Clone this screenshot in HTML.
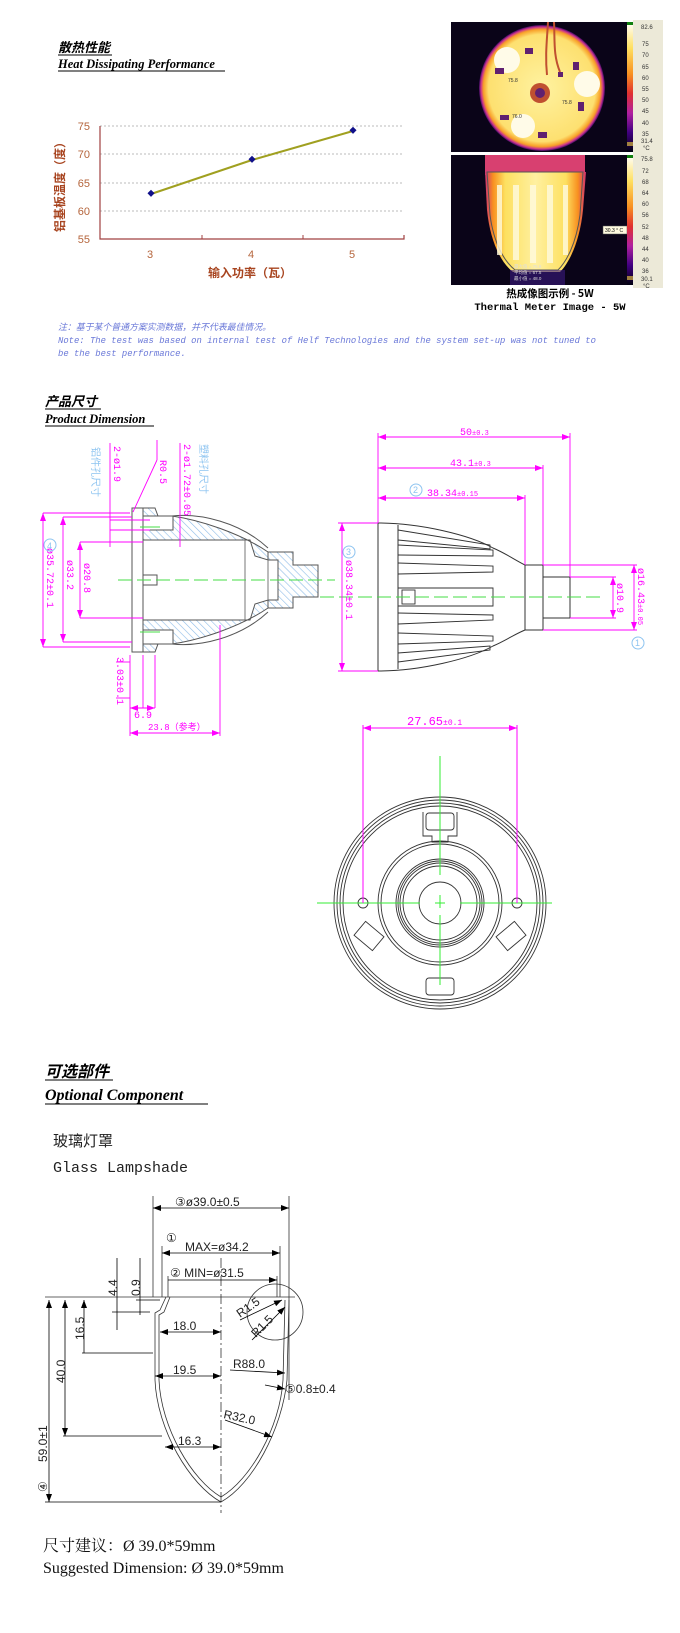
<!DOCTYPE html>
<html><head><meta charset="utf-8">
<style>
html,body{margin:0;padding:0;background:#fff;}
svg{display:block;}
</style></head>
<body>
<svg width="680" height="1633" viewBox="0 0 680 1633" xmlns="http://www.w3.org/2000/svg">
<defs>
<pattern id="hatch" width="5" height="5" patternUnits="userSpaceOnUse" patternTransform="rotate(-45)">
<rect width="5" height="5" fill="#fff"/><line x1="0" y1="0" x2="0" y2="5" stroke="#8fbde8" stroke-width="1.2"/></pattern>
<radialGradient id="disk" cx="0.5" cy="0.5" r="0.5">
<stop offset="0" stop-color="#fff2a0"/><stop offset="0.85" stop-color="#fde070"/><stop offset="0.93" stop-color="#f8a028"/><stop offset="0.97" stop-color="#c83090"/><stop offset="1" stop-color="#3a0a60"/></radialGradient>
<linearGradient id="bulb" x1="0" y1="0" x2="1" y2="0">
<stop offset="0" stop-color="#d03070"/><stop offset="0.08" stop-color="#f89020"/><stop offset="0.2" stop-color="#fde060"/><stop offset="0.5" stop-color="#fff0a0"/><stop offset="0.8" stop-color="#fde060"/><stop offset="0.92" stop-color="#f89020"/><stop offset="1" stop-color="#d03070"/></linearGradient>
<linearGradient id="cbar" x1="0" y1="0" x2="0" y2="1">
<stop offset="0" stop-color="#ffffff"/><stop offset="0.2" stop-color="#ffe060"/><stop offset="0.4" stop-color="#f89020"/><stop offset="0.55" stop-color="#e03030"/><stop offset="0.7" stop-color="#b020a0"/><stop offset="0.85" stop-color="#400080"/><stop offset="1" stop-color="#000010"/></linearGradient>
<marker id="ar" markerWidth="8" markerHeight="6" refX="8" refY="3" orient="auto-start-reverse" markerUnits="userSpaceOnUse"><path d="M0,0 L8,3 L0,6 z" fill="#f0f"/></marker>
<marker id="ak" markerWidth="8" markerHeight="6" refX="8" refY="3" orient="auto-start-reverse" markerUnits="userSpaceOnUse"><path d="M0,0 L8,3 L0,6 z" fill="#000"/></marker>
</defs>

<g font-family="'Liberation Serif','Noto Serif CJK SC',serif" font-weight="bold" font-style="italic" fill="#000">
<text x="58" y="52" font-size="13" font-family="'Noto Sans CJK SC',sans-serif">散热性能</text>
<text x="58" y="68" font-size="12.5">Heat Dissipating Performance</text>
<line x1="58" y1="71" x2="225" y2="71" stroke="#000" stroke-width="1"/>
<line x1="58" y1="55" x2="112" y2="55" stroke="#000" stroke-width="1"/>
</g>

<g font-family="'Liberation Sans',sans-serif" font-size="11" fill="#b5653c">
<g stroke="#bbb" stroke-dasharray="2,2"><line x1="100" y1="126" x2="404" y2="126"/><line x1="100" y1="154" x2="404" y2="154"/><line x1="100" y1="183" x2="404" y2="183"/><line x1="100" y1="211" x2="404" y2="211"/></g>
<polyline points="100,126 100,239 404,239 404,235" fill="none" stroke="#a04040" stroke-width="1.2"/>
<line x1="202" y1="239" x2="202" y2="235" stroke="#a04040"/><line x1="303" y1="239" x2="303" y2="235" stroke="#a04040"/>
<text x="90" y="130" text-anchor="end">75</text><text x="90" y="158" text-anchor="end">70</text><text x="90" y="187" text-anchor="end">65</text><text x="90" y="215" text-anchor="end">60</text><text x="90" y="243" text-anchor="end">55</text>
<text x="150" y="258" text-anchor="middle">3</text><text x="251" y="258" text-anchor="middle">4</text><text x="352" y="258" text-anchor="middle">5</text>
<text x="250" y="277" text-anchor="middle" font-weight="bold" font-size="12" fill="#a84520" font-family="'Noto Sans CJK SC',sans-serif">输入功率（瓦）</text>
<text transform="translate(64,184) rotate(-90)" text-anchor="middle" font-weight="bold" font-size="12" fill="#a84520" font-family="'Noto Sans CJK SC',sans-serif">铝基板温度（度）</text>
<polyline points="151,194 252,160 353,131" fill="none" stroke="#a0a020" stroke-width="2"/>
<g fill="#10108a"><rect x="148" y="191" width="5" height="5" transform="rotate(45 151 194)"/><rect x="249" y="157" width="5" height="5" transform="rotate(45 252 160)"/><rect x="350" y="128" width="5" height="5" transform="rotate(45 353 131)"/></g>
</g>

<g font-family="'Liberation Mono','Noto Sans CJK SC',monospace" font-style="italic" font-size="8.9" fill="#6a78d8">
<text x="58" y="330">注：基于某个普通方案实测数据，并不代表最佳情况。</text>
<text x="58" y="343">Note: The test was based on internal test of Helf Technologies and the system set-up was not tuned to</text>
<text x="58" y="356">be the best performance.</text>
</g>

<rect x="451" y="22" width="176" height="130" fill="#0a0418"/>
<circle cx="542" cy="88" r="63" fill="url(#disk)"/>
<circle cx="507" cy="60" r="13" fill="#fffbe8"/><circle cx="587" cy="84" r="13" fill="#fffbe8"/><circle cx="523" cy="126" r="12" fill="#fffbe8"/>
<circle cx="540" cy="93" r="10" fill="#c05030"/><circle cx="540" cy="93" r="5" fill="#602070"/>
<g fill="#602070"><rect x="495" y="68" width="9" height="6"/><rect x="525" y="48" width="8" height="6"/><rect x="573" y="62" width="6" height="8"/><rect x="578" y="102" width="6" height="9"/><rect x="500" y="115" width="9" height="5"/><rect x="538" y="132" width="9" height="6"/><rect x="558" y="72" width="5" height="5"/></g>
<path d="M548,22 C547,40 545,55 547,75 M554,22 C555,40 553,55 560,72" stroke="#c05030" stroke-width="2" fill="none"/>
<g font-size="5" fill="#333" font-family="'Liberation Sans',sans-serif"><text x="508" y="82">75.8</text><text x="562" y="104">75.8</text><text x="512" y="118">76.0</text></g>
<rect x="451" y="155" width="176" height="130" fill="#0a0418"/>
<rect x="485" y="155" width="100" height="20" fill="#d84070"/>
<path d="M485,172 L586,172 L583,210 C580,240 570,262 560,272 L513,272 C500,262 490,240 487,210 Z" fill="url(#bulb)"/>
<path d="M487,172 L583,172 L580,215 C576,245 566,262 558,270 L515,270 C505,262 494,245 490,215 Z" fill="none" stroke="#555" stroke-width="1"/>
<g fill="#fffbe0" opacity="0.8"><rect x="497" y="185" width="5" height="70"/><rect x="513" y="185" width="6" height="75"/><rect x="530" y="185" width="6" height="78"/><rect x="547" y="185" width="6" height="78"/><rect x="563" y="185" width="5" height="70"/></g>
<rect x="510" y="270" width="55" height="15" fill="#3a1a80" opacity="0.6"/>
<g font-size="4.5" fill="#ddd" font-family="'Liberation Sans',sans-serif"><text x="514" y="268">最大值 = 75.8</text><text x="514" y="274">平均值 = 67.5</text><text x="514" y="280">最小值 = 48.0</text></g>
<rect x="603" y="226" width="24" height="8" fill="#fffbe0" stroke="#555" stroke-width="0.5"/><text x="605" y="232" font-size="5" font-family="'Liberation Sans',sans-serif">30.3 ° C</text>
<rect x="627" y="22" width="6" height="130" fill="url(#cbar)"/><rect x="627" y="22" width="6" height="3" fill="#108010"/><rect x="627" y="142" width="6" height="4" fill="#a08040"/>
<rect x="627" y="155" width="6" height="130" fill="url(#cbar)"/><rect x="627" y="155" width="6" height="3" fill="#108010"/><rect x="627" y="276" width="6" height="4" fill="#a08040"/>
<rect x="633" y="20" width="30" height="134" fill="#ece9d8"/><rect x="633" y="154" width="30" height="134" fill="#ece9d8"/>
<g font-size="6" fill="#333" font-family="'Liberation Sans',sans-serif">
<text x="641" y="29">82.6</text><text x="642" y="46">75</text><text x="642" y="57">70</text><text x="642" y="69">65</text><text x="642" y="80">60</text><text x="642" y="91">55</text><text x="642" y="102">50</text><text x="642" y="113">45</text><text x="642" y="125">40</text><text x="642" y="136">35</text><text x="641" y="143">31.4</text><text x="643" y="150">°C</text>
<text x="641" y="161">75.8</text><text x="642" y="173">72</text><text x="642" y="184">68</text><text x="642" y="195">64</text><text x="642" y="206">60</text><text x="642" y="217">56</text><text x="642" y="229">52</text><text x="642" y="240">48</text><text x="642" y="251">44</text><text x="642" y="262">40</text><text x="642" y="273">36</text><text x="641" y="281">30.1</text><text x="643" y="288">°C</text></g>
<g font-weight="bold" font-size="10.5" text-anchor="middle" fill="#000">
<text x="550" y="297" font-family="'Noto Sans CJK SC',sans-serif">热成像图示例 - 5W</text>
<text x="550" y="310" font-family="'Liberation Mono',monospace">Thermal Meter Image - 5W</text></g>

<g font-family="'Liberation Serif',serif" font-weight="bold" font-style="italic" fill="#000">
<text x="45" y="406" font-size="13" font-family="'Noto Sans CJK SC',sans-serif">产品尺寸</text>
<line x1="45" y1="409" x2="101" y2="409" stroke="#000"/>
<text x="45" y="423" font-size="12.5">Product Dimension</text>
<line x1="45" y1="426" x2="154" y2="426" stroke="#000"/>
</g>

<g stroke-width="1">
<path d="M143,508 L155,508 L158,516 L172,516 C200,520 240,533 268,552 L268,560 L255,556 L250,540 L143,540 Z" fill="url(#hatch)" stroke="#555"/>
<path d="M143,652 L155,652 L158,644 L172,644 C200,640 240,627 268,608 L268,600 L255,604 L250,620 L143,620 Z" fill="url(#hatch)" stroke="#555"/>
<path d="M268,552 L293,552 L293,565 L318,565 L318,597 L293,597 L293,608 L268,608 L268,600 L278,600 L278,560 L268,560 Z" fill="url(#hatch)" stroke="#555"/>
<path d="M172,516 C200,513 240,522 268,548" fill="none" stroke="#555"/>
<path d="M172,644 C200,647 240,638 268,612" fill="none" stroke="#555"/>
<rect x="132" y="508" width="11" height="144" fill="#fff" stroke="#555"/>
<rect x="143" y="516" width="30" height="14" fill="#fff" stroke="#555"/>
<rect x="143" y="630" width="30" height="14" fill="#fff" stroke="#555"/>
<line x1="245" y1="540" x2="245" y2="620" stroke="#777"/><line x1="268" y1="560" x2="268" y2="600" stroke="#777"/>
<rect x="143" y="575" width="14" height="10" fill="#fff" stroke="#555"/>
<line x1="118" y1="580" x2="335" y2="580" stroke="#4d4" stroke-dasharray="14,5"/>
<line x1="140" y1="527" x2="160" y2="527" stroke="#4d4"/><line x1="140" y1="632" x2="160" y2="632" stroke="#4d4"/>
</g>
<g stroke="#f0f" fill="none" stroke-width="0.9">
<line x1="43" y1="513" x2="130" y2="513"/><line x1="43" y1="647" x2="130" y2="647"/>
<line x1="43" y1="513" x2="43" y2="647" marker-start="url(#ar)" marker-end="url(#ar)"/>
<line x1="63" y1="517" x2="132" y2="517"/><line x1="63" y1="642" x2="132" y2="642"/>
<line x1="63" y1="517" x2="63" y2="642" marker-start="url(#ar)" marker-end="url(#ar)"/>
<line x1="80" y1="542" x2="143" y2="542"/><line x1="80" y1="618" x2="143" y2="618"/>
<line x1="80" y1="542" x2="80" y2="618" marker-start="url(#ar)" marker-end="url(#ar)"/>
<line x1="110" y1="443" x2="110" y2="547"/><line x1="180" y1="443" x2="180" y2="547"/>
<line x1="110" y1="520" x2="150" y2="520"/><line x1="110" y1="530" x2="150" y2="530"/>
<line x1="157" y1="460" x2="133" y2="512"/><line x1="157" y1="460" x2="157" y2="440"/>
<line x1="130" y1="655" x2="130" y2="736"/><line x1="143" y1="655" x2="143" y2="708"/><line x1="155" y1="655" x2="155" y2="708"/><line x1="220" y1="625" x2="220" y2="736"/>
<line x1="116" y1="662" x2="130" y2="662"/><line x1="116" y1="698" x2="130" y2="698"/>
<line x1="130" y1="708" x2="155" y2="708" marker-start="url(#ar)" marker-end="url(#ar)"/>
<line x1="130" y1="733" x2="220" y2="733" marker-start="url(#ar)" marker-end="url(#ar)"/>
</g>
<g font-family="'Liberation Mono','Noto Sans CJK SC',monospace" font-size="10" fill="#f0f">
<text transform="translate(47,548) rotate(90)">ø35.72±0.1</text>
<text transform="translate(67,560) rotate(90)">ø33.2</text>
<text transform="translate(84,563) rotate(90)">ø20.8</text>
<text transform="translate(114,446) rotate(90)">2-ø1.9</text>
<text transform="translate(160,460) rotate(90)">R0.5</text>
<text transform="translate(184,444) rotate(90)">2-ø1.72±0.05</text>
<text transform="translate(117,657) rotate(90)">3.03±0.1</text>
<text x="134" y="718">6.9</text>
<text x="148" y="730" font-size="9">23.8（参考）</text>
</g>
<g font-family="'Noto Sans CJK SC',sans-serif" font-size="10" fill="#8ec4f0">
<text transform="translate(92,447) rotate(90)">铝件孔尺寸</text>
<text transform="translate(200,444) rotate(90)">塑料孔尺寸</text>
</g>
<circle cx="50" cy="545" r="6" fill="none" stroke="#8ec4f0"/><text x="47" y="549" font-size="9" fill="#8ec4f0" font-family="'Liberation Sans',sans-serif">4</text>

<g stroke="#333" fill="none" stroke-width="1">
<path d="M378,523 L378,671"/>
<path d="M378,523 C420,523 470,535 493,548 C505,553 515,560 525,565"/>
<path d="M378,671 C420,671 470,659 493,646 C505,641 515,634 525,630"/>
<rect x="525" y="565" width="18" height="65"/><rect x="543" y="577" width="27" height="41"/>
<line x1="398" y1="525" x2="398" y2="669"/>
<g stroke-width="0.9">
<path d="M398,530 L490,545 L490,549 L398,540"/><path d="M398,545 L493,550 L493,556 L398,555"/><path d="M398,563 L493,566 L493,572 L398,574"/><path d="M398,588 L493,588 L493,606 L398,606"/><path d="M398,613 L493,615 L493,620 L398,624"/><path d="M398,633 L493,636 L493,641 L398,644"/><path d="M398,653 L490,646 L490,650 L398,662"/>
<rect x="402" y="590" width="13" height="14"/></g>
</g>
<line x1="320" y1="597" x2="605" y2="597" stroke="#4d4" stroke-dasharray="14,5"/>
<g stroke="#f0f" fill="none" stroke-width="0.9">
<line x1="378" y1="433" x2="378" y2="523"/><line x1="570" y1="433" x2="570" y2="577"/><line x1="543" y1="465" x2="543" y2="565"/><line x1="525" y1="495" x2="525" y2="565"/>
<line x1="378" y1="437" x2="570" y2="437" marker-start="url(#ar)" marker-end="url(#ar)"/>
<line x1="378" y1="468" x2="543" y2="468" marker-start="url(#ar)" marker-end="url(#ar)"/>
<line x1="378" y1="498" x2="525" y2="498" marker-start="url(#ar)" marker-end="url(#ar)"/>
<line x1="338" y1="523" x2="378" y2="523"/><line x1="338" y1="671" x2="378" y2="671"/>
<line x1="342" y1="523" x2="342" y2="671" marker-start="url(#ar)" marker-end="url(#ar)"/>
<line x1="543" y1="565" x2="637" y2="565"/><line x1="543" y1="630" x2="637" y2="630"/>
<line x1="634" y1="565" x2="634" y2="630" marker-start="url(#ar)" marker-end="url(#ar)"/>
<line x1="570" y1="577" x2="616" y2="577"/><line x1="570" y1="618" x2="616" y2="618"/>
<line x1="613" y1="577" x2="613" y2="618" marker-start="url(#ar)" marker-end="url(#ar)"/>
</g>
<g font-family="'Liberation Mono',monospace" font-size="10" fill="#f0f">
<text x="460" y="435">50<tspan font-size="7">±0.3</tspan></text>
<text x="450" y="466">43.1<tspan font-size="7">±0.3</tspan></text>
<text x="427" y="496">38.34<tspan font-size="7">±0.15</tspan></text>
<text transform="translate(346,560) rotate(90)">ø38.34±0.1</text>
<text transform="translate(638,568) rotate(90)">ø16.43<tspan font-size="7">±0.05</tspan></text>
<text transform="translate(617,583) rotate(90)">ø10.9</text>
</g>
<g fill="none" stroke="#8ec4f0"><circle cx="416" cy="490" r="6"/><circle cx="349" cy="552" r="6"/><circle cx="638" cy="643" r="6"/></g>
<g font-size="9" fill="#8ec4f0" font-family="'Liberation Sans',sans-serif"><text x="413" y="493">2</text><text x="346" y="555">3</text><text x="635" y="646">1</text></g>

<g stroke="#333" fill="none" stroke-width="0.9">
<circle cx="440" cy="903" r="106"/><circle cx="440" cy="903" r="103"/><circle cx="440" cy="903" r="100"/><circle cx="440" cy="903" r="97"/>
<circle cx="440" cy="903" r="62"/><circle cx="440" cy="903" r="59"/>
<circle cx="440" cy="903" r="44"/><circle cx="440" cy="903" r="42"/><circle cx="440" cy="903" r="40"/><circle cx="440" cy="903" r="37"/>
<circle cx="440" cy="903" r="21"/>
<circle cx="363" cy="903" r="5"/><circle cx="517" cy="903" r="5"/>
<rect x="426" y="813" width="28" height="17" rx="3"/>
<path d="M423,812 L423,836 L432,836 L432,842 L448,842 L448,836 L457,836 L457,812"/>
<rect x="426" y="978" width="28" height="17" rx="3"/>
<rect x="357" y="927" width="24" height="18" transform="rotate(40 369 936)"/>
<rect x="499" y="927" width="24" height="18" transform="rotate(-40 511 936)"/>
</g>
<g stroke="#3e3" stroke-width="1">
<line x1="317" y1="903" x2="420" y2="903"/><line x1="460" y1="903" x2="552" y2="903"/><line x1="435" y1="903" x2="445" y2="903"/>
<line x1="440" y1="756" x2="440" y2="875"/><line x1="440" y1="915" x2="440" y2="985"/><line x1="440" y1="895" x2="440" y2="908"/>
</g>
<g stroke="#f0f" stroke-width="1" fill="none">
<line x1="363" y1="725" x2="363" y2="903"/><line x1="517" y1="725" x2="517" y2="903"/>
<line x1="363" y1="728" x2="517" y2="728" marker-start="url(#ar)" marker-end="url(#ar)"/>
</g>
<text x="407" y="725" font-family="'Liberation Mono',monospace" font-size="12" fill="#f0f">27.65<tspan font-size="8">±0.1</tspan></text>

<g font-family="'Liberation Serif',serif" font-weight="bold" font-style="italic" fill="#000">
<text x="45" y="1077" font-size="16" font-family="'Noto Sans CJK SC',sans-serif">可选部件</text>
<line x1="45" y1="1080" x2="113" y2="1080" stroke="#000"/>
<text x="45" y="1100" font-size="16">Optional Component</text>
<line x1="45" y1="1104" x2="208" y2="1104" stroke="#000"/>
</g>
<text x="53" y="1146" font-family="'Noto Sans CJK SC',sans-serif" font-size="15" fill="#222">玻璃灯罩</text>
<text x="53" y="1172" font-family="'Liberation Mono',monospace" font-size="15" fill="#222">Glass Lampshade</text>

<g stroke="#333" fill="none" stroke-width="0.8">
<line x1="45" y1="1297" x2="295" y2="1297"/>
<line x1="153" y1="1196" x2="153" y2="1297"/><line x1="289" y1="1196" x2="289" y2="1400"/>
<line x1="162" y1="1246" x2="162" y2="1297"/><line x1="280" y1="1246" x2="280" y2="1297"/>
<line x1="168" y1="1276" x2="168" y2="1297"/><line x1="277" y1="1276" x2="277" y2="1297"/>
<path d="M166,1297 L160,1310 L155,1313 L155,1380 C157,1430 190,1485 221,1502 C252,1485 282,1430 287,1380 L289,1300"/>
<path d="M170,1297 L164,1312 L159,1315 L159,1380 C161,1428 192,1480 221,1497 C250,1480 280,1428 283,1380 L285,1300"/>
<line x1="221" y1="1258" x2="221" y2="1513" stroke-dasharray="10,3,2,3"/>
<circle cx="275" cy="1312" r="28"/>
</g>
<g stroke="#000" fill="none" stroke-width="0.8">
<line x1="153" y1="1208" x2="289" y2="1208" marker-start="url(#ak)" marker-end="url(#ak)"/>
<line x1="162" y1="1253" x2="280" y2="1253" marker-start="url(#ak)" marker-end="url(#ak)"/>
<line x1="168" y1="1280" x2="277" y2="1280" marker-end="url(#ak)"/>
<line x1="49" y1="1300" x2="49" y2="1502" marker-start="url(#ak)" marker-end="url(#ak)"/>
<line x1="45" y1="1502" x2="221" y2="1502"/>
<line x1="65" y1="1300" x2="65" y2="1436" marker-start="url(#ak)" marker-end="url(#ak)"/>
<line x1="63" y1="1436" x2="162" y2="1436"/>
<line x1="84" y1="1300" x2="84" y2="1353" marker-start="url(#ak)"/>
<line x1="82" y1="1353" x2="153" y2="1353"/>
<line x1="117" y1="1258" x2="117" y2="1330"/><line x1="140" y1="1258" x2="140" y2="1315"/>
<line x1="112" y1="1312" x2="150" y2="1312"/><line x1="136" y1="1300" x2="160" y2="1300"/>
<line x1="160" y1="1332" x2="221" y2="1332" marker-start="url(#ak)" marker-end="url(#ak)"/>
<line x1="155" y1="1376" x2="221" y2="1376" marker-start="url(#ak)" marker-end="url(#ak)"/>
<line x1="165" y1="1447" x2="221" y2="1447" marker-start="url(#ak)" marker-end="url(#ak)"/>
<line x1="230" y1="1370" x2="285" y2="1373" marker-end="url(#ak)"/>
<line x1="265" y1="1385" x2="285" y2="1389" marker-end="url(#ak)"/>
<line x1="225" y1="1420" x2="272" y2="1437" marker-end="url(#ak)"/>
<line x1="240" y1="1320" x2="282" y2="1300" marker-end="url(#ak)"/>
<line x1="252" y1="1340" x2="285" y2="1307" marker-end="url(#ak)"/>
</g>
<g font-family="'Liberation Sans','DejaVu Sans',sans-serif" font-size="12" fill="#222">
<text x="175" y="1206">③ø39.0±0.5</text>
<text x="166" y="1242">①</text><text x="185" y="1251">MAX=ø34.2</text>
<text x="170" y="1277">② MIN=ø31.5</text>
<text x="173" y="1330">18.0</text><text x="173" y="1374">19.5</text><text x="178" y="1445">16.3</text>
<text x="233" y="1368">R88.0</text>
<text x="285" y="1393">⑤0.8±0.4</text>
<text transform="translate(223,1418) rotate(12)">R32.0</text>
<text transform="translate(240,1318) rotate(-35)">R1.5</text>
<text transform="translate(256,1338) rotate(-45)">R1.5</text>
<text transform="translate(117,1296) rotate(-90)">4.4</text>
<text transform="translate(140,1296) rotate(-90)">0.9</text>
<text transform="translate(84,1340) rotate(-90)">16.5</text>
<text transform="translate(65,1383) rotate(-90)">40.0</text>
<text transform="translate(47,1462) rotate(-90)">59.0±1</text>
<text transform="translate(47,1492) rotate(-90)">④</text>
</g>

<g font-family="'Liberation Serif','Noto Serif CJK SC',serif" font-size="16" fill="#111">
<text x="43" y="1551">尺寸建议：Ø 39.0*59mm</text>
<text x="43" y="1573">Suggested Dimension: Ø 39.0*59mm</text>
</g>
</svg>
</body></html>
